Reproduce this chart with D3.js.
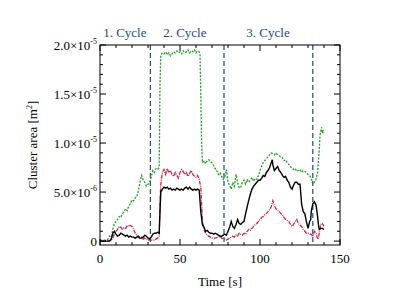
<!DOCTYPE html>
<html>
<head>
<meta charset="utf-8">
<script src="https://cdn.jsdelivr.net/npm/d3@7"></script>
<style>
  body { margin: 0; background: #fff; }
  svg { display: block; font-family: "Liberation Serif", "DejaVu Serif", serif; }
</style>
</head>
<body>
<svg id="chart" width="399" height="299"></svg>
<script>
// values are in units of 1e-5 m^2, time in s
const greenData = [[0,0.01],[3,0.01],[5,0.02],[6,0.05],[7,0.02],[8,0.12],[9,0.18],[10,0.2],[11,0.22],[12,0.25],[13,0.24],[14,0.28],[15,0.3],[16,0.33],[17,0.31],[18,0.36],[19,0.38],[20,0.42],[21,0.41],[22,0.44],[23,0.45],[24,0.52],[25,0.6],[26,0.67],[27,0.62],[28,0.6],[29,0.56],[30,0.58],[31,0.6],[32,0.65],[33,0.72],[34,0.7],[35,0.74],[36,0.73],[37,0.75],[37.5,1.6],[38,1.9],[39,1.92],[40,1.91],[41,1.93],[42,1.9],[43,1.92],[44,1.89],[45,1.91],[46,1.93],[47,1.92],[48,1.94],[49,1.92],[50,1.93],[51,1.91],[52,1.94],[53,1.92],[54,1.93],[55,1.95],[56,1.92],[57,1.94],[58,1.93],[59,1.95],[60,1.92],[61,1.94],[62,1.93],[62.5,1.9],[63,1.5],[63.5,1.0],[64,0.8],[65,0.82],[66,0.79],[67,0.82],[68,0.83],[69,0.81],[70,0.8],[71,0.77],[72,0.74],[73,0.72],[74,0.68],[75,0.7],[76,0.66],[77,0.63],[78,0.66],[79,0.73],[80,0.6],[81,0.57],[82,0.53],[83,0.6],[84,0.56],[85,0.68],[86,0.6],[87,0.54],[88,0.55],[89,0.6],[90,0.62],[91,0.58],[92,0.63],[93,0.6],[94,0.62],[95,0.65],[96,0.61],[97,0.64],[98,0.63],[99,0.67],[100,0.72],[101,0.76],[102,0.8],[103,0.82],[104,0.84],[105,0.86],[106,0.88],[107,0.9],[108,0.89],[109,0.88],[110,0.9],[111,0.88],[112,0.87],[113,0.86],[114,0.85],[115,0.82],[116,0.83],[117,0.8],[118,0.78],[119,0.76],[120,0.74],[121,0.73],[122,0.74],[123,0.71],[124,0.72],[125,0.73],[126,0.7],[127,0.72],[128,0.71],[129,0.7],[130,0.68],[131,0.67],[132,0.64],[133,0.58],[134,0.6],[135,0.63],[136,0.7],[137,0.92],[137.5,1.08],[138,1.12],[138.5,1.16],[139,1.1],[139.5,1.12],[140,1.1]];

const redData = [[0,0],[5,0],[7,0.01],[8,0.03],[9,0.07],[10,0.1],[11,0.12],[12,0.15],[13,0.14],[14,0.12],[15,0.14],[16,0.13],[17,0.16],[18,0.15],[19,0.16],[20,0.15],[21,0.12],[22,0.08],[23,0.06],[24,0.04],[25,0.03],[26,0.04],[27,0.02],[28,0.03],[29,0.02],[30,0.01],[32,0.01],[34,0.01],[35,0.02],[36,0.03],[37,0.05],[37.5,0.4],[38,0.58],[39,0.7],[40,0.73],[41,0.68],[42,0.74],[43,0.7],[44,0.72],[45,0.68],[46,0.66],[47,0.7],[48,0.67],[49,0.64],[50,0.7],[51,0.73],[52,0.71],[53,0.68],[54,0.7],[55,0.66],[56,0.69],[57,0.72],[58,0.68],[59,0.66],[60,0.65],[61,0.67],[62,0.63],[63,0.55],[64,0.2],[65,0.12],[66,0.08],[67,0.06],[68,0.05],[69,0.04],[70,0.03],[72,0.03],[74,0.04],[75,0.05],[76,0.03],[78,0.02],[79,0.01],[80,0.02],[81,0.03],[82,0.04],[83,0.05],[84,0.04],[85,0.06],[86,0.05],[87,0.08],[88,0.07],[89,0.06],[90,0.08],[91,0.07],[92,0.1],[93,0.12],[94,0.11],[95,0.13],[96,0.15],[97,0.17],[98,0.18],[99,0.2],[100,0.22],[101,0.24],[102,0.25],[103,0.27],[104,0.28],[105,0.3],[106,0.32],[107,0.35],[108,0.41],[109,0.36],[110,0.33],[111,0.32],[112,0.3],[113,0.28],[114,0.27],[115,0.24],[116,0.22],[117,0.21],[118,0.2],[119,0.17],[120,0.15],[121,0.17],[122,0.2],[123,0.22],[124,0.18],[125,0.16],[126,0.15],[127,0.12],[128,0.1],[129,0.08],[130,0.08],[131,0.07],[132,0.07],[133,0.05],[134,0.1],[135,0.08],[136,0.03],[136.5,0.02],[137,0.08],[138,0.17],[139,0.18],[140,0.15]];

const blackData = [[0,0],[6,0],[7,0.02],[8,0.08],[9,0.1],[10,0.07],[11,0.05],[12,0.06],[13,0.08],[14,0.07],[15,0.06],[16,0.05],[17,0.06],[18,0.04],[19,0.05],[20,0.04],[21,0.04],[22,0.03],[23,0.04],[24,0.05],[25,0.03],[26,0.03],[27,0.04],[28,0.06],[29,0.05],[30,0.03],[31,0.02],[32,0.04],[33,0.07],[34,0.08],[35,0.08],[36,0.09],[37,0.08],[37.5,0.3],[38,0.5],[39,0.53],[40,0.55],[41,0.54],[42,0.55],[43,0.53],[44,0.54],[45,0.52],[46,0.53],[47,0.52],[48,0.54],[49,0.53],[50,0.52],[51,0.53],[52,0.52],[53,0.54],[54,0.55],[55,0.53],[56,0.55],[57,0.53],[58,0.52],[59,0.53],[60,0.52],[61,0.53],[62,0.52],[63,0.3],[64,0.17],[65,0.14],[66,0.1],[67,0.11],[68,0.09],[69,0.08],[70,0.08],[71,0.07],[72,0.08],[73,0.07],[74,0.06],[75,0.05],[76,0.05],[77,0.06],[78,0.07],[79,0.06],[80,0.1],[81,0.14],[82,0.2],[83,0.15],[84,0.13],[85,0.17],[86,0.22],[87,0.18],[88,0.17],[89,0.19],[90,0.2],[91,0.28],[92,0.35],[93,0.42],[94,0.48],[95,0.53],[96,0.56],[97,0.58],[98,0.6],[99,0.62],[100,0.62],[101,0.64],[102,0.67],[103,0.66],[104,0.7],[105,0.72],[106,0.75],[107,0.8],[107.7,0.83],[108,0.78],[109,0.72],[110,0.74],[111,0.76],[112,0.72],[113,0.7],[114,0.67],[115,0.65],[116,0.66],[117,0.62],[118,0.6],[119,0.55],[120,0.53],[121,0.57],[122,0.6],[123,0.6],[124,0.58],[125,0.58],[126,0.38],[127,0.3],[128,0.28],[129,0.2],[130,0.13],[131,0.2],[131.7,0.22],[132,0.3],[133,0.38],[134,0.4],[135,0.37],[136,0.25],[136.5,0.17],[137,0.12],[138,0.13],[139,0.13],[140,0.12]];

const cycleLines = [31.5, 77.5, 133];
const cycleLabels = [["1. Cycle", 15.5], ["2. Cycle", 53], ["3. Cycle", 105]];
const xTicks = [0, 50, 100, 150];
const yTicks = [0, 0.5, 1.0, 1.5, 2.0];
const yTickLabels = [["0", ""], ["5.0×10", "-6"], ["1.0×10", "-5"], ["1.5×10", "-5"], ["2.0×10", "-5"]];

const margin = { top: 45, left: 100 },
  width = 240,
  height = 200;

const svg = d3.select("#chart");
const g = svg.append("g").attr("transform", `translate(${margin.left},${margin.top})`);

const x = d3.scaleLinear().domain([0, 150]).range([0, width]);
// axis starts a little below zero
const y = d3.scaleLinear().domain([-0.04, 2.0]).range([height, 0]);

// cycle dividers
g.selectAll(".cycle")
  .data(cycleLines)
  .enter()
  .append("line")
  .attr("x1", d => x(d)).attr("x2", d => x(d))
  .attr("y1", 0).attr("y2", height)
  .style("stroke", "#2b5688")
  .style("stroke-width", 1.3)
  .style("stroke-dasharray", "5,3");

// series
const line = d3.line().x(d => x(d[0])).y(d => y(d[1]));

g.append("path").datum(greenData).attr("d", line)
  .style("fill", "none").style("stroke", "#1a9e1a").style("stroke-width", 1.3)
  .style("stroke-dasharray", "2,1.5");

g.append("path").datum(redData).attr("d", line)
  .style("fill", "none").style("stroke", "#c8244c").style("stroke-width", 1.3)
  .style("stroke-dasharray", "4,1,1,1");

g.append("path").datum(blackData).attr("d", line)
  .style("fill", "none").style("stroke", "#000").style("stroke-width", 1.4);

// frame
g.append("rect").attr("width", width).attr("height", height)
  .style("fill", "none").style("stroke", "#000").style("stroke-width", 1);

// ticks, inward on all four sides
const xMinor = d3.range(0, 151, 10);
const yMinor = d3.range(0, 2.001, 0.1);

xMinor.forEach(t => {
  const len = t % 50 === 0 ? 6 : 3;
  g.append("line").attr("x1", x(t)).attr("x2", x(t)).attr("y1", height).attr("y2", height - len).style("stroke", "#000");
  g.append("line").attr("x1", x(t)).attr("x2", x(t)).attr("y1", 0).attr("y2", len).style("stroke", "#000");
});
yMinor.forEach((v, i) => {
  const len = i % 5 === 0 ? 6 : 3;
  g.append("line").attr("x1", 0).attr("x2", len).attr("y1", y(v)).attr("y2", y(v)).style("stroke", "#000");
  g.append("line").attr("x1", width).attr("x2", width - len).attr("y1", y(v)).attr("y2", y(v)).style("stroke", "#000");
});

// tick labels
g.selectAll(".xlab")
  .data(xTicks)
  .enter()
  .append("text")
  .attr("x", d => x(d))
  .attr("y", height + 18)
  .attr("text-anchor", "middle")
  .style("font-size", "13px")
  .text(d => d);

yTicks.forEach((v, i) => {
  const t = g.append("text")
    .attr("x", -3)
    .attr("y", y(v) + 5)
    .attr("text-anchor", "end")
    .style("font-size", "13px");
  t.append("tspan").text(yTickLabels[i][0]);
  if (yTickLabels[i][1]) {
    t.append("tspan").attr("dy", -6).style("font-size", "8px").text(yTickLabels[i][1]);
  }
});

// cycle labels
g.selectAll(".clab")
  .data(cycleLabels)
  .enter()
  .append("text")
  .attr("x", d => x(d[1]))
  .attr("y", -8)
  .attr("text-anchor", "middle")
  .style("font-size", "13px")
  .style("fill", "#1d4a80")
  .text(d => d[0]);

// axis titles
g.append("text")
  .attr("x", width / 2)
  .attr("y", height + 41)
  .attr("text-anchor", "middle")
  .style("font-size", "13px")
  .text("Time [s]");

const yt = g.append("text")
  .attr("transform", `translate(-63,${height / 2}) rotate(-90)`)
  .attr("text-anchor", "middle")
  .style("font-size", "13px");
yt.append("tspan").text("Cluster area [m");
yt.append("tspan").attr("dy", -5).style("font-size", "8px").text("2");
yt.append("tspan").attr("dy", 5).text("]");
</script>
</body>
</html>
